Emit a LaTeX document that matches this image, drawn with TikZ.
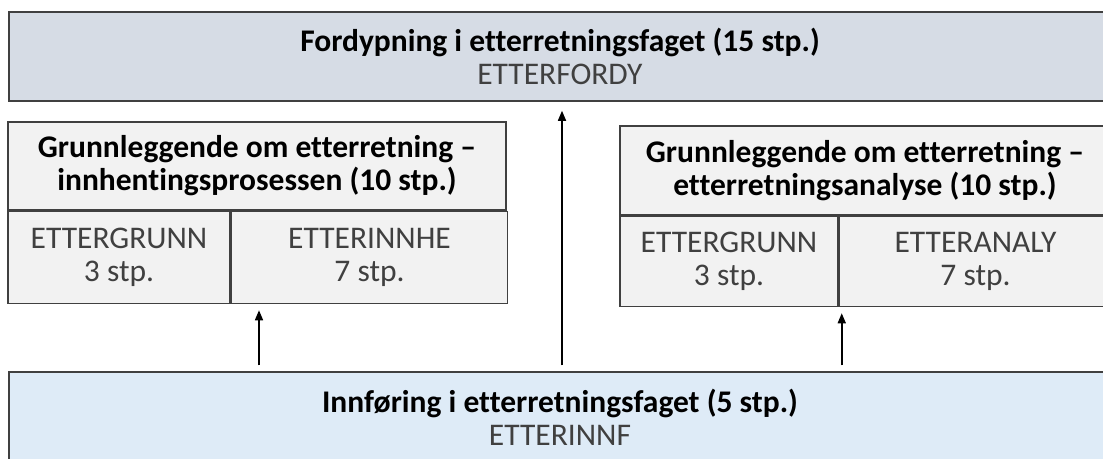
\documentclass[tikz,border=0pt]{standalone}
\usepackage{fontspec}
\setmainfont{Carlito}[Ligatures={TeX,NoCommon}]
\usetikzlibrary{positioning,arrows.meta}
\definecolor{fordyfill}{RGB}{214,220,229}
\definecolor{innffill}{RGB}{222,235,247}
\definecolor{cellfill}{RGB}{242,242,242}
\definecolor{boxline}{RGB}{64,64,64}
\definecolor{codetext}{RGB}{64,64,64}

\tikzset{
  course/.style={draw=boxline, line width=1.5pt, align=center, inner sep=0pt,
    font=\fontsize{31.5}{33}\selectfont},
  uparrow/.style={-{Triangle[length=10pt,width=8pt]}, line width=1.5pt,
    shorten <=6pt, shorten >=6pt}
}

\begin{document}
\begin{tikzpicture}[x=1pt,y=-1pt]
\clip (0,0) rectangle (1103,458);

% Advanced course
\node[course, fill=fordyfill, minimum width=1102pt, minimum height=89pt] (fordy) at (560,56.5)
  {\textbf{Fordypning i etterretningsfaget (15 stp.)}\\\textcolor{codetext}{ETTERFORDY}};

% Basic course - collection
\node[course, fill=cellfill, minimum width=498pt, minimum height=88pt] (innhHead) at (257,166)
  {\textbf{Grunnleggende om etterretning –}\\\textbf{innhentingsprosessen (10 stp.)}};
\node[course, fill=cellfill, minimum width=222pt, minimum height=92pt, anchor=north west]
  (innhGrunn) at (innhHead.south west) {\textcolor{codetext}{ETTERGRUNN}\\\textcolor{codetext}{3 stp.}};
\node[course, fill=cellfill, minimum width=276pt, minimum height=92pt, anchor=north west]
  (innhInnhe) at (innhGrunn.north east) {\textcolor{codetext}{ETTERINNHE}\\\textcolor{codetext}{7 stp.}};

% Basic course - analysis
\node[course, fill=cellfill, minimum width=490pt, minimum height=89pt] (analHead) at (865,170.5)
  {\textbf{Grunnleggende om etterretning –}\\\textbf{etterretningsanalyse (10 stp.)}};
\node[course, fill=cellfill, minimum width=218pt, minimum height=90pt, anchor=north west]
  (analGrunn) at (analHead.south west) {\textcolor{codetext}{ETTERGRUNN}\\\textcolor{codetext}{3 stp.}};
\node[course, fill=cellfill, minimum width=272pt, minimum height=90pt, anchor=north west]
  (analAnaly) at (analGrunn.north east) {\textcolor{codetext}{ETTERANALY}\\\textcolor{codetext}{7 stp.}};

% Introduction
\node[course, fill=innffill, minimum width=1102pt, minimum height=90pt] (innf) at (560,417)
  {\textbf{Innføring i etterretningsfaget (5 stp.)}\\\textcolor{codetext}{ETTERINNF}};

% Arrows
\draw[uparrow] ([xshift=2pt]innf.north -| innhHead.south) -- ([xshift=2pt]innhGrunn.south -| innhHead.south);
\draw[uparrow, shorten >=9pt] ([xshift=2pt]innf.north -| fordy.south) -- ([xshift=2pt]fordy.south);
\draw[uparrow] ([xshift=3pt]innf.north -| analGrunn.south east) -- ([xshift=3pt]analGrunn.south east);

\end{tikzpicture}
\end{document}
